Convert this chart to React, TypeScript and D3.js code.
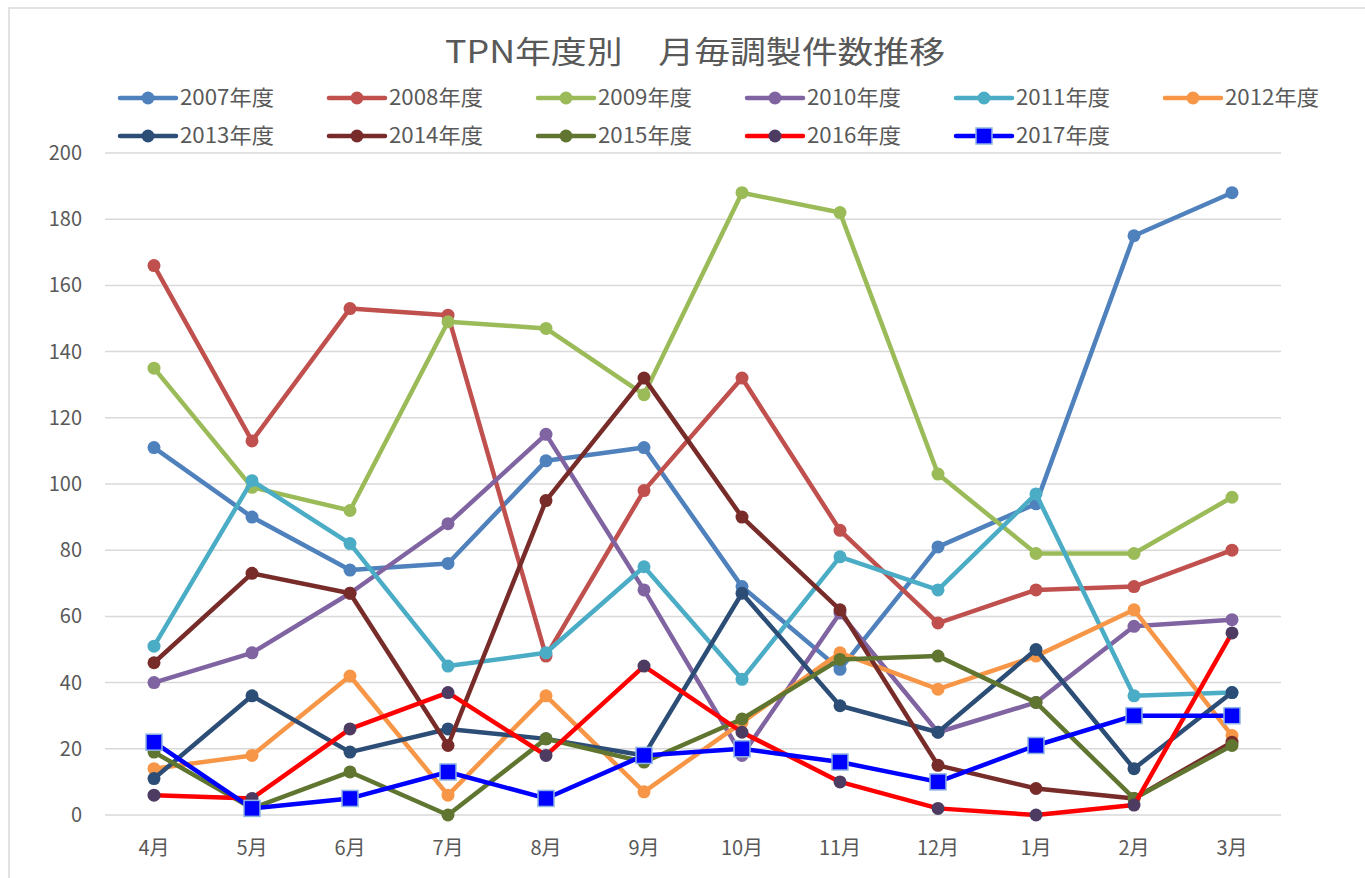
import React from 'react';
import * as d3 from 'd3';

const months = ['4月', '5月', '6月', '7月', '8月', '9月', '10月', '11月', '12月', '1月', '2月', '3月'];
const yTicks = [0, 20, 40, 60, 80, 100, 120, 140, 160, 180, 200];

const fy2007 = [111, 90, 74, 76, 107, 111, 69, 44, 81, 94, 175, 188];
const fy2008 = [166, 113, 153, 151, 48, 98, 132, 86, 58, 68, 69, 80];
const fy2009 = [135, 99, 92, 149, 147, 127, 188, 182, 103, 79, 79, 96];
const fy2010 = [40, 49, 67, 88, 115, 68, 18, 61, 25, 34, 57, 59];
const fy2011 = [51, 101, 82, 45, 49, 75, 41, 78, 68, 97, 36, 37];
const fy2012 = [14, 18, 42, 6, 36, 7, 28, 49, 38, 48, 62, 24];
const fy2013 = [11, 36, 19, 26, 23, 18, 67, 33, 25, 50, 14, 37];
const fy2014 = [46, 73, 67, 21, 95, 132, 90, 62, 15, 8, 5, 22];
const fy2015 = [19, 2, 13, 0, 23, 16, 29, 47, 48, 34, 5, 21];
const fy2016 = [6, 5, 26, 37, 18, 45, 25, 10, 2, 0, 3, 55];
const fy2017 = [22, 2, 5, 13, 5, 18, 20, 16, 10, 21, 30, 30];

interface Series {
    name: string;
    values: number[];
    line: string;
    marker: string;
    square?: boolean;
}

const series: Series[] = [
    { name: '2007年度', values: fy2007, line: '#4F81BD', marker: '#4F81BD' },
    { name: '2008年度', values: fy2008, line: '#C0504D', marker: '#C0504D' },
    { name: '2009年度', values: fy2009, line: '#9BBB59', marker: '#9BBB59' },
    { name: '2010年度', values: fy2010, line: '#8064A2', marker: '#8064A2' },
    { name: '2011年度', values: fy2011, line: '#4BACC6', marker: '#4BACC6' },
    { name: '2012年度', values: fy2012, line: '#F79646', marker: '#F79646' },
    { name: '2013年度', values: fy2013, line: '#2C4D75', marker: '#2C4D75' },
    { name: '2014年度', values: fy2014, line: '#772C2A', marker: '#772C2A' },
    { name: '2015年度', values: fy2015, line: '#5F7530', marker: '#5F7530' },
    { name: '2016年度', values: fy2016, line: '#FF0000', marker: '#4D3B62' },
    { name: '2017年度', values: fy2017, line: '#0000FF', marker: '#0000FF', square: true },
];

const font = '"Noto Sans CJK JP", "Noto Sans", sans-serif';
const textColor = '#595959';

const App: React.FC = () => {
    const width = 1365;
    const height = 878;
    const plotLeft = 105;
    const plotRight = 1281;

    const x = d3.scalePoint<string>()
        .domain(months)
        .range([154, 1232]);

    const y = d3.scaleLinear()
        .domain([0, 200])
        .range([815, 153]);

    const line = d3.line<number>()
        .x((_, i) => x(months[i]) ?? 0)
        .y(d => y(d));

    const marker = (s: Series, cx: number, cy: number, key: string | number) =>
        s.square ? (
            <rect key={key} x={cx - 8} y={cy - 8} width={16} height={16}
                fill={s.marker} stroke="#8DB4E2" strokeWidth={1.5} />
        ) : (
            <circle key={key} cx={cx} cy={cy} r={6.5} fill={s.marker} />
        );

    return (
        <svg width={width} height={height} style={{ position: 'absolute', left: 0, top: 0, background: '#fff' }}>
            <rect x={9} y={8} width={width + 20} height={height + 20} fill="#fff" stroke="#D9D9D9" strokeWidth={1.5} />

            <text x={695} y={63} textAnchor="middle" fontFamily={font} fontSize={31} fill={textColor}
                textLength={500} lengthAdjust="spacingAndGlyphs">
                TPN年度別　月毎調製件数推移
            </text>

            {series.map((s, i) => {
                const col = i < 6 ? i : i - 6;
                const row = i < 6 ? 0 : 1;
                const lx = 120 + col * 209;
                const ly = row === 0 ? 98 : 136;
                return (
                    <g key={s.name}>
                        <line x1={lx} x2={lx + 56} y1={ly} y2={ly} stroke={s.line} strokeWidth={4.5} strokeLinecap="round" />
                        {marker(s, lx + 28, ly, 'm')}
                        <text x={lx + 60} y={ly} dy="0.35em" fontFamily={font} fontSize={21} fill={textColor}
                            textLength={94} lengthAdjust="spacingAndGlyphs">{s.name}</text>
                    </g>
                );
            })}

            {yTicks.map(t => (
                <g key={t}>
                    <line x1={plotLeft} x2={plotRight} y1={y(t)} y2={y(t)} stroke="#D9D9D9" strokeWidth={1.5} />
                    <text x={82} y={y(t)} dy="0.35em" textAnchor="end" fontFamily={font} fontSize={20} fill={textColor}>{t}</text>
                </g>
            ))}

            {months.map(m => (
                <text key={m} x={x(m)} y={848} dy="0.35em" textAnchor="middle" fontFamily={font} fontSize={20} fill={textColor}>{m}</text>
            ))}

            {series.map(s => (
                <g key={s.name}>
                    <path d={line(s.values) ?? ''} fill="none" stroke={s.line} strokeWidth={4.5} strokeLinejoin="round" strokeLinecap="round" />
                    {s.values.map((v, i) => marker(s, x(months[i]) ?? 0, y(v), i))}
                </g>
            ))}
        </svg>
    );
};

export default App;
